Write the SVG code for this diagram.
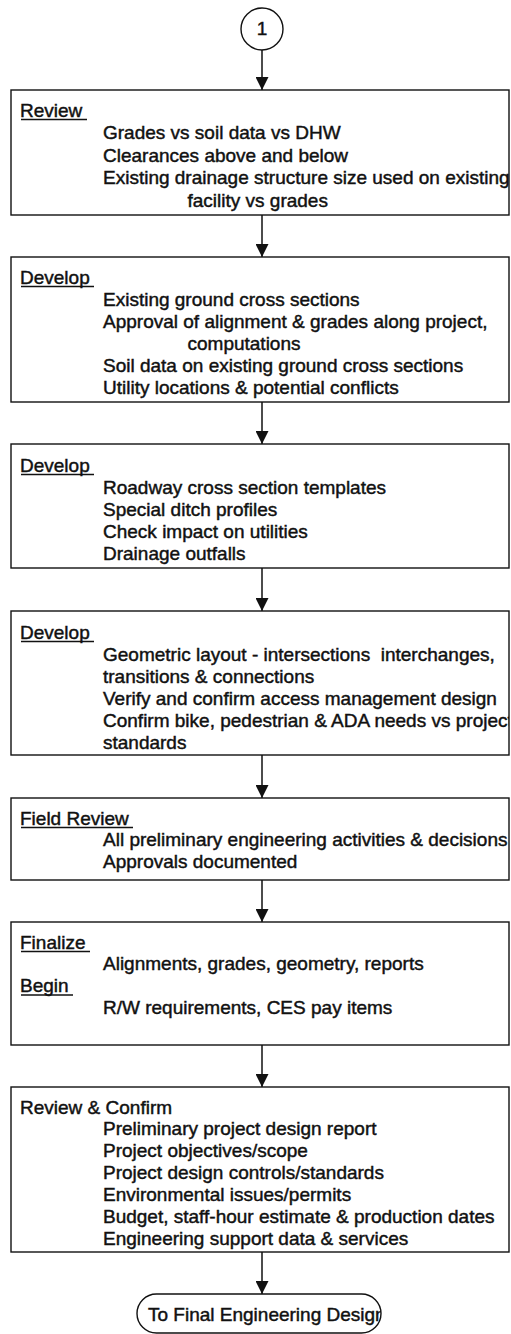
<svg xmlns="http://www.w3.org/2000/svg" width="511" height="1334" viewBox="0 0 511 1334">
<style>
  .box { fill: #fff; stroke: #111; stroke-width: 1.4; }
  .t { font-family: "Liberation Sans", Arial, Helvetica, sans-serif; font-size: 19px; fill: #111; stroke: #111; stroke-width: 0.45; }
  .ul { stroke: #111; stroke-width: 1.4; }
  .conn { stroke: #111; stroke-width: 1.5; fill: none; marker-end: url(#ah); }
</style>
<defs>
  <marker id="ah" markerUnits="userSpaceOnUse" markerWidth="13" markerHeight="13" viewBox="0 0 13 13" refX="13" refY="6.5" orient="auto">
    <path d="M0,0 L13,6.5 L0,13 z" fill="#111"/>
  </marker>
  <clipPath id="clipR"><rect x="0" y="0" width="509" height="1334"/></clipPath>
  <clipPath id="clipOval"><rect x="137" y="1294" width="244" height="39" rx="19.5" ry="19.5"/></clipPath>
</defs>
<rect width="511" height="1334" fill="#fff"/>

<g id="connectors">
  <line class="conn" x1="262" y1="50" x2="262" y2="90"/>
  <line class="conn" x1="262" y1="215" x2="262" y2="257"/>
  <line class="conn" x1="262" y1="402" x2="262" y2="444"/>
  <line class="conn" x1="262" y1="568" x2="262" y2="611"/>
  <line class="conn" x1="262" y1="755" x2="262" y2="798"/>
  <line class="conn" x1="262" y1="880" x2="262" y2="922"/>
  <line class="conn" x1="262" y1="1045" x2="262" y2="1087"/>
  <line class="conn" x1="262" y1="1252" x2="262" y2="1294"/>
</g>

<g id="start">
  <circle cx="262" cy="29" r="21" fill="#fff" stroke="#111" stroke-width="1.4"/>
  <text class="t" x="262" y="35" text-anchor="middle" font-size="17">1</text>
</g>

<g id="review1">
  <rect class="box" x="11" y="90" width="498" height="125"/>
  <g clip-path="url(#clipR)">
    <text class="t" x="20" y="116.5">Review</text>
    <text class="t" x="103" y="139">Grades vs soil data vs DHW</text>
    <text class="t" x="103" y="161.5">Clearances above and below</text>
    <text class="t" x="103" y="184">Existing drainage structure size used on existing</text>
    <text class="t" x="187.5" y="206.5">facility vs grades</text>
  </g>
  <line class="ul" x1="21" y1="119.5" x2="87" y2="119.5"/>
</g>

<g id="develop1">
  <rect class="box" x="11" y="257" width="498" height="145"/>
  <g clip-path="url(#clipR)">
    <text class="t" x="20" y="283.5">Develop</text>
    <text class="t" x="103" y="305.5">Existing ground cross sections</text>
    <text class="t" x="103" y="327.5">Approval of alignment &amp; grades along project,</text>
    <text class="t" x="187.5" y="349.5">computations</text>
    <text class="t" x="103" y="371.5">Soil data on existing ground cross sections</text>
    <text class="t" x="103" y="393.5">Utility locations &amp; potential conflicts</text>
  </g>
  <line class="ul" x1="21" y1="286.5" x2="94" y2="286.5"/>
</g>

<g id="develop2">
  <rect class="box" x="11" y="444" width="498" height="124"/>
  <g clip-path="url(#clipR)">
    <text class="t" x="20" y="471.5">Develop</text>
    <text class="t" x="103" y="493.5">Roadway cross section templates</text>
    <text class="t" x="103" y="515.5">Special ditch profiles</text>
    <text class="t" x="103" y="537.5">Check impact on utilities</text>
    <text class="t" x="103" y="559.5">Drainage outfalls</text>
  </g>
  <line class="ul" x1="21" y1="474.5" x2="94" y2="474.5"/>
</g>

<g id="develop3">
  <rect class="box" x="11" y="611" width="498" height="144"/>
  <g clip-path="url(#clipR)">
    <text class="t" x="20" y="638.5">Develop</text>
    <text class="t" x="103" y="660.5" xml:space="preserve">Geometric layout - intersections  interchanges,</text>
    <text class="t" x="103" y="682.5">transitions &amp; connections</text>
    <text class="t" x="103" y="704.5">Verify and confirm access management design</text>
    <text class="t" x="103" y="726.5">Confirm bike, pedestrian &amp; ADA needs vs project</text>
    <text class="t" x="103" y="748.5">standards</text>
  </g>
  <line class="ul" x1="21" y1="641.5" x2="94" y2="641.5"/>
</g>

<g id="fieldreview">
  <rect class="box" x="11" y="798" width="498" height="82"/>
  <g clip-path="url(#clipR)">
    <text class="t" x="20" y="824.5">Field Review</text>
    <text class="t" x="103" y="846">All preliminary engineering activities &amp; decisions</text>
    <text class="t" x="103" y="867.5">Approvals documented</text>
  </g>
  <line class="ul" x1="21" y1="827.5" x2="133" y2="827.5"/>
</g>

<g id="finalize">
  <rect class="box" x="11" y="922" width="498" height="123"/>
  <g clip-path="url(#clipR)">
    <text class="t" x="20" y="948.5">Finalize</text>
    <text class="t" x="103" y="970">Alignments, grades, geometry, reports</text>
    <text class="t" x="20" y="992">Begin</text>
    <text class="t" x="103" y="1014">R/W requirements, CES pay items</text>
  </g>
  <line class="ul" x1="21" y1="951.5" x2="90" y2="951.5"/>
  <line class="ul" x1="21" y1="995" x2="73" y2="995"/>
</g>

<g id="reviewconfirm">
  <rect class="box" x="11" y="1087" width="498" height="165"/>
  <g clip-path="url(#clipR)">
    <text class="t" x="20" y="1113.5">Review &amp; Confirm</text>
    <text class="t" x="103" y="1135">Preliminary project design report</text>
    <text class="t" x="103" y="1157">Project objectives/scope</text>
    <text class="t" x="103" y="1179">Project design controls/standards</text>
    <text class="t" x="103" y="1201">Environmental issues/permits</text>
    <text class="t" x="103" y="1223">Budget, staff-hour estimate &amp; production dates</text>
    <text class="t" x="103" y="1245">Engineering support data &amp; services</text>
  </g>
</g>

<g id="end">
  <rect x="137" y="1294" width="244" height="39" rx="19.5" ry="19.5" fill="#fff" stroke="#111" stroke-width="1.4"/>
  <text class="t" x="148" y="1321" clip-path="url(#clipOval)">To Final Engineering Design</text>
</g>
</svg>
